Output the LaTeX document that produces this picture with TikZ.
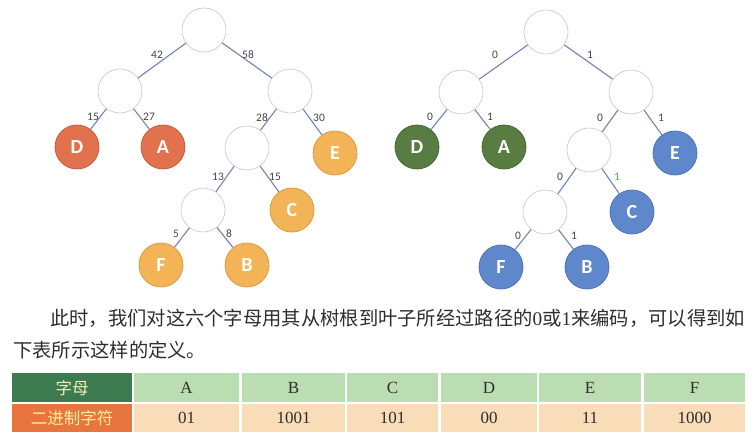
\documentclass[tikz,border=0pt]{standalone}
\usepackage{fontspec}
\setmainfont{Liberation Serif}
\newfontfamily\cjk{Noto Sans CJK SC}
\newfontfamily\labfont{Carlito}
\definecolor{edgec}{HTML}{7083B8}
\definecolor{ringc}{HTML}{C9CCD2}
\definecolor{redor}{HTML}{E2714E}
\definecolor{redorD}{HTML}{C65F40}
\definecolor{lightor}{HTML}{F2B457}
\definecolor{lightorD}{HTML}{D99B45}
\definecolor{dgreen}{HTML}{587C41}
\definecolor{dgreenD}{HTML}{476834}
\definecolor{blueL}{HTML}{5F88CC}
\definecolor{blueD}{HTML}{4E74B4}
\definecolor{txt}{HTML}{2E2E2E}
\definecolor{labc}{HTML}{444444}
\definecolor{hdgreen}{HTML}{3C7B50}
\definecolor{hdorange}{HTML}{E8743E}
\definecolor{cellgreen}{HTML}{BADDB2}
\definecolor{cellpeach}{HTML}{F9DCB8}
\definecolor{hdtext}{HTML}{EEF2B0}
\definecolor{hdtext2}{HTML}{FFEFA0}
\definecolor{bitgreen}{HTML}{3CB83C}
\tikzset{
  inner/.style={circle,minimum size=44pt,inner sep=0pt,fill=white,draw=ringc,line width=0.7pt},
  leaf/.style={circle,minimum size=44pt,inner sep=0pt,line width=0.8pt,text=white,
    font=\labfont\bfseries\fontsize{20}{20}\selectfont},
  redleaf/.style={leaf,fill=redor,draw=redorD},
  orleaf/.style={leaf,fill=lightor,draw=lightorD},
  grleaf/.style={leaf,fill=dgreen,draw=dgreenD},
  blleaf/.style={leaf,fill=blueL,draw=blueD},
  edge/.style={draw=edgec,line width=1.1pt},
  elabel/.style={inner sep=0pt,text=labc,font=\labfont\fontsize{11.5}{11.5}\selectfont},
  para/.style={inner sep=0pt,anchor=west,text=txt,font=\fontsize{19.3}{23}\selectfont},
  celltext/.style={inner sep=0pt,text=txt,font=\fontsize{17}{17}\selectfont},
  hdtxt/.style={inner sep=0pt,font=\cjk\fontsize{16.5}{16.5}\selectfont}
}
\begin{document}
\begin{tikzpicture}[x=1pt,y=-1pt]
\useasboundingbox (0,0) rectangle (754,442);
% ---------- left tree ----------
\node[inner] (r1) at (204,30) {};
\node[inner] (n1) at (120,91) {};
\node[inner] (n2) at (290,91) {};
\node[redleaf] (D1) at (77,147) {D};
\node[redleaf] (A1) at (163,147) {A};
\node[inner] (n3) at (247,148) {};
\node[orleaf] (E1) at (335,153) {E};
\node[inner] (n4) at (203,210) {};
\node[orleaf] (C1) at (292,210) {C};
\node[orleaf] (F1) at (161,265) {F};
\node[orleaf] (B1) at (247,265) {B};
\path[edge] (r1) -- (n1);
\path[edge] (r1) -- (n2);
\path[edge] (n1) -- (D1);
\path[edge] (n1) -- (A1);
\path[edge] (n2) -- (n3);
\path[edge] (n2) -- (E1);
\path[edge] (n3) -- (n4);
\path[edge] (n3) -- (C1);
\path[edge] (n4) -- (F1);
\path[edge] (n4) -- (B1);
\node[elabel] (la) at (157,55) {42};
\node[elabel] (lb) at (248,55) {58};
\node[elabel] (lc) at (93,117) {15};
\node[elabel] (ld) at (149,117) {27};
\node[elabel] (le) at (262,118) {28};
\node[elabel] (lf) at (319,118) {30};
\node[elabel] (lg) at (218,177) {13};
\node[elabel] (lh) at (275,177) {15};
\node[elabel] (li) at (176,234) {5};
\node[elabel] (lj) at (229,234) {8};
% ---------- right tree ----------
\node[inner] (r2) at (546,32) {};
\node[inner] (m1) at (461,92) {};
\node[inner] (m2) at (631,92) {};
\node[grleaf] (D2) at (417,147) {D};
\node[grleaf] (A2) at (504,147) {A};
\node[inner] (m3) at (589,150) {};
\node[blleaf] (E2) at (675,153) {E};
\node[inner] (m4) at (545,212) {};
\node[blleaf] (C2) at (632,212) {C};
\node[blleaf] (F2) at (501,267) {F};
\node[blleaf] (B2) at (587,267) {B};
\path[edge] (r2) -- (m1);
\path[edge] (r2) -- (m2);
\path[edge] (m1) -- (D2);
\path[edge] (m1) -- (A2);
\path[edge] (m2) -- (m3);
\path[edge] (m2) -- (E2);
\path[edge] (m3) -- (m4);
\path[edge] (m3) -- (C2);
\path[edge] (m4) -- (F2);
\path[edge] (m4) -- (B2);
\node[elabel] (ka) at (495,55) {0};
\node[elabel] (kb) at (590,55) {1};
\node[elabel] (kc) at (430,117) {0};
\node[elabel] (kd) at (490,117) {1};
\node[elabel] (ke) at (600,118) {0};
\node[elabel] (kf) at (661,118) {1};
\node[elabel] (kg) at (560,177) {0};
\node[elabel,text=bitgreen] (kh) at (617,177) {1};
\node[elabel] (ki) at (518,236) {0};
\node[elabel] (kj) at (574,236) {1};
% ---------- paragraph ----------
\node[para] (p1) at (50,318) {{\cjk 此时，我们对这六个字母用其从树根到叶子所经过路径的}0{\cjk 或}1{\cjk 来编码，可以得到如}};
\node[para] (p2) at (13,350) {{\cjk 下表所示这样的定义。}};
% ---------- table ----------
\fill[hdgreen] (12,373) rectangle (132,402);
\fill[hdorange] (12,404) rectangle (132,432);
\node[hdtxt,text=hdtext] (h1) at (72,388) {字母};
\node[hdtxt,text=hdtext2] (h2) at (72,418) {二进制字符};
\foreach \xa/\xb/\ltr/\code [count=\i] in {134/239/A/01, 242/345/B/1001, 347/438/C/101, 441/537/D/00, 539/641/E/11, 644/745/F/1000}{
  \fill[cellgreen] (\xa,373) rectangle (\xb,402);
  \fill[cellpeach] (\xa,404) rectangle (\xb,432);
  \node[celltext] (t\i) at ({(\xa+\xb)/2},388) {\ltr};
  \node[celltext] (c\i) at ({(\xa+\xb)/2},418) {\code};
}
\end{tikzpicture}
\end{document}
